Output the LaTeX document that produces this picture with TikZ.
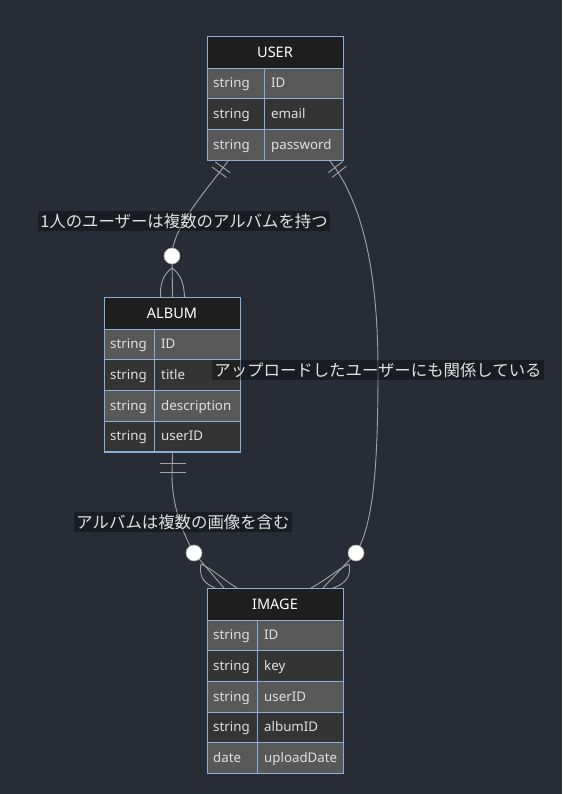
\documentclass[tikz,border=0pt]{standalone}
\usepackage{fontspec}
\setmainfont{Noto Sans}
\newfontfamily\jp{Noto Sans CJK JP}
\usetikzlibrary{calc}
\definecolor{bg}{RGB}{40,44,55}
\definecolor{hdr}{RGB}{30,30,30}
\definecolor{rowa}{RGB}{88,88,88}
\definecolor{rowb}{RGB}{52,52,52}
\definecolor{erb}{RGB}{135,175,215}
\definecolor{txt}{RGB}{225,225,225}
\definecolor{lnc}{RGB}{165,165,165}
\tikzset{
  cell/.style={anchor=base west, inner sep=0pt, text=txt, font=\fontsize{13.3}{15}\selectfont},
  htext/.style={inner sep=0pt, text=white, font=\fontsize{14.5}{16}\selectfont},
  frame/.style={draw=erb, line width=1.1pt, anchor=north west, inner sep=0pt, minimum width=136pt},
  erline/.style={draw=erb, line width=0.9pt},
  rel/.style={draw=lnc, line width=0.9pt},
  dot/.style={fill=white, draw=lnc, line width=0.6pt},
  lbl/.style={fill=black, fill opacity=0.35, text opacity=1, text=txt, inner sep=2.5pt, font=\jp\fontsize{16.4}{19}\selectfont}
}
\newcommand{\erow}[9]{%
  \fill[#9] (#2,#5) rectangle (#4,#6);
  \draw[erline] (#2,#5) rectangle (#3,#6) (#3,#5) rectangle (#4,#6);
  \node[cell] (#1t) at ({#2+6},{(#5+#6)/2+4.5}) {#7};
  \node[cell] (#1f) at ({#3+7},{(#5+#6)/2+4.5}) {#8};
}
\begin{document}
\begin{tikzpicture}[x=1pt,y=-1pt]
\useasboundingbox[fill=bg] (0,0) rectangle (562,794);

% USER
\fill[hdr] (207,36) rectangle (343,68);
\node[htext] (userh) at (275,52) {USER};
\erow{ua}{207}{264}{343}{68}{98.7}{string}{ID}{rowa}
\erow{ub}{207}{264}{343}{98.7}{129.3}{string}{email}{rowb}
\erow{uc}{207}{264}{343}{129.3}{160}{string}{password}{rowa}
\node[frame, minimum height=124pt] (user) at (207,36) {};

% ALBUM
\fill[hdr] (104,297) rectangle (240,329);
\node[htext] (albumh) at (172,313) {ALBUM};
\erow{aa}{104}{154}{240}{329}{359.7}{string}{ID}{rowa}
\erow{ab}{104}{154}{240}{359.7}{390.3}{string}{title}{rowb}
\erow{ac}{104}{154}{240}{390.3}{421}{string}{description}{rowa}
\erow{ad}{104}{154}{240}{421}{451.7}{string}{userID}{rowb}
\node[frame, minimum height=154.7pt] (album) at (104,297) {};

% IMAGE
\fill[hdr] (207,588) rectangle (343,620);
\node[htext] (imageh) at (275,604) {IMAGE};
\erow{ia}{207}{257}{343}{620}{650.7}{string}{ID}{rowa}
\erow{ib}{207}{257}{343}{650.7}{681.3}{string}{key}{rowb}
\erow{ic}{207}{257}{343}{681.3}{712}{string}{userID}{rowa}
\erow{id}{207}{257}{343}{712}{742.7}{string}{albumID}{rowb}
\erow{ie}{207}{257}{343}{742.7}{773.3}{date}{uploadDate}{rowa}
\node[frame, minimum height=185.3pt] (image) at (207,588) {};

% anchor coordinates
\coordinate (u1) at ($(user.south west)+(21,0)$);
\coordinate (u2) at ($(user.south west)+(123,0)$);
\coordinate (a1) at (album.south);
\coordinate (c1) at (172,256);
\coordinate (c2) at (356,553);
\coordinate (c3) at (194,553);
\coordinate (i1) at ($(image.north west)+(8,0)$);
\coordinate (i2) at ($(image.north west)+(126,0)$);

% USER -> ALBUM
\draw[rel] (u1) .. controls (205,192) and (172,228) .. (c1);
\draw[rel] (c1) -- (album.north);
\draw[rel] (172,268) .. controls (162,275) and (160,286) .. ($(album.north)+(-12,0)$);
\draw[rel] (172,268) .. controls (182,275) and (184,286) .. ($(album.north)+(12,0)$);
\draw[rel] (215.4,162) -- (230,172.6);
\draw[rel] (211.9,166.9) -- (226.5,177.5);
\draw[dot] (c1) circle (8);

% USER -> IMAGE
\draw[rel] (u2) .. controls (365,205) and (378,280) .. (378,370)
  .. controls (378,470) and (373,525) .. (c2);
\draw[rel] (c2) -- ($(i2)+(-10,0)$);
\draw[rel] (349,564) .. controls (338,569) and (326,580) .. ($(i2)+(-22,0)$);
\draw[rel] (349,564) .. controls (351,574) and (348,583) .. (i2);
\draw[rel] (328.4,172.6) -- (342.6,161.6);
\draw[rel] (332.1,177.3) -- (346.3,166.3);
\draw[dot] (c2) circle (8);

% ALBUM -> IMAGE
\draw[rel] (a1) -- (172,475) .. controls (172,505) and (182,532) .. (c3);
\draw[rel] (c3) -- ($(i1)+(9,0)$);
\draw[rel] (201,564) .. controls (212,569) and (224,580) .. ($(i1)+(22,0)$);
\draw[rel] (201,564) .. controls (199,574) and (202,583) .. (i1);
\draw[rel] (160,463) -- (186,463);
\draw[rel] (160,472) -- (186,472);
\draw[dot] (c3) circle (8);

% labels
\node[lbl] (l1) at (184,221) {1人のユーザーは複数のアルバムを持つ};
\node[lbl] (l2) at (378,370) {アップロードしたユーザーにも関係している};
\node[lbl] (l3) at (183,522) {アルバムは複数の画像を含む};
\end{tikzpicture}
\end{document}
